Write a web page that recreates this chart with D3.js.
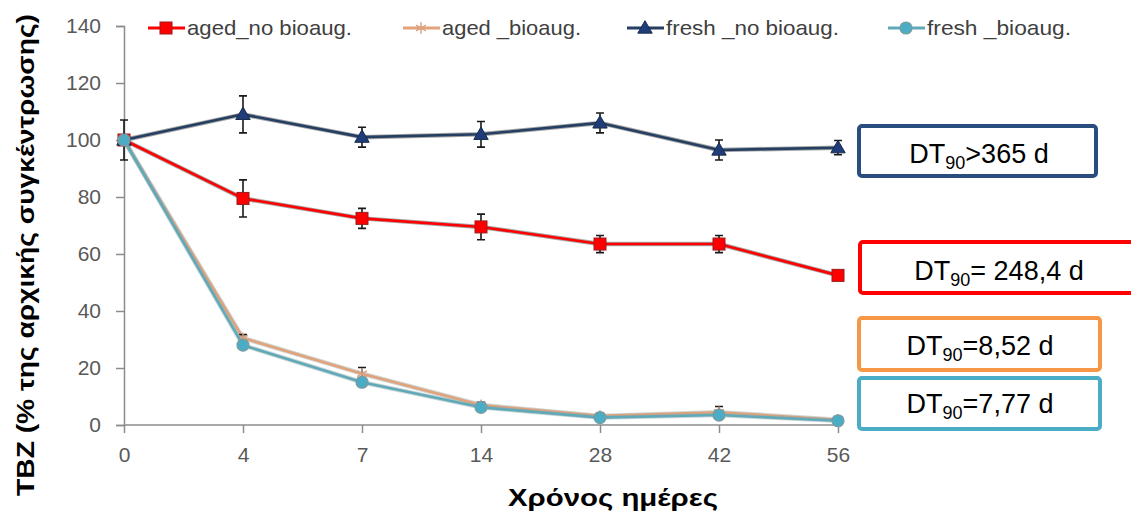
<!DOCTYPE html>
<html>
<head>
<meta charset="utf-8">
<script src="https://cdn.jsdelivr.net/npm/d3@7"></script>
<style>
  html, body { margin: 0; padding: 0; background: #fff; }
  svg { display: block; }
</style>
</head>
<body>
<svg id="chart" width="1131" height="514"></svg>
<script>
const categories = ["0", "4", "7", "14", "28", "42", "56"];
const yTicks = [0, 20, 40, 60, 80, 100, 120, 140];

const seriesNames = ["aged_no bioaug.", "aged _bioaug.", "fresh _no bioaug.", "fresh _bioaug."];
const agedNo = [100, 79.5, 72.5, 69.5, 63.5, 63.5, 52.5];
const agedNoErr = [7, 6.5, 3.5, 4.5, 3, 3, 1.5];
const agedBio = [100, 30.5, 18, 7, 3.2, 4.5, 1.8];
const agedBioErr = [0, 1.2, 2.2, 1, 1, 2, 1];
const freshNo = [100, 109, 101, 102, 106, 96.5, 97.3];
const freshNoErr = [0, 6.5, 3.5, 4.5, 3.5, 3.5, 2.5];
const freshBio = [100, 28, 15, 6.2, 2.6, 3.5, 1.5];
const freshBioErr = [0, 0.8, 0.8, 0.8, 0.8, 0.8, 0.8];

const dtLabels = [">365 d", "= 248,4 d", "=8,52 d", "=7,77 d"];

const svg = d3.select("#chart");
const x = d3.scalePoint().domain(categories).range([124, 838]);
const y = d3.scaleLinear().domain([0, 140]).range([425, 26]);

const axisColor = "#8c8c8c";
const labelColor = "#595959";
const font = "'Liberation Sans', Arial, sans-serif";

// Y axis
const yAxis = svg.append("g").attr("transform", "translate(124,0)")
  .call(d3.axisLeft(y).tickValues(yTicks).tickSize(8).tickPadding(15));
yAxis.select(".domain").attr("stroke", axisColor).attr("stroke-width", 1.5);
yAxis.selectAll(".tick line").attr("stroke", axisColor).attr("stroke-width", 1.5);
yAxis.selectAll(".tick text").attr("fill", labelColor).style("font-family", font).style("font-size", "21px");

// X axis
const xAxis = svg.append("g").attr("transform", "translate(0,425)")
  .call(d3.axisBottom(x).tickSize(8).tickPadding(14));
xAxis.select(".domain").attr("stroke", axisColor).attr("stroke-width", 1.5).attr("d", "M124,0H838");
xAxis.selectAll(".tick line").attr("stroke", axisColor).attr("stroke-width", 1.5);
xAxis.selectAll(".tick text").attr("fill", labelColor).style("font-family", font).style("font-size", "21px");

// Axis titles
svg.append("text")
  .attr("transform", "translate(34,255) rotate(-90)")
  .attr("text-anchor", "middle")
  .attr("textLength", 482).attr("lengthAdjust", "spacingAndGlyphs")
  .style("font-family", font).style("font-weight", "bold").style("font-size", "23px")
  .attr("fill", "#000")
  .text("TBZ (% της αρχικής συγκέντρωσης)");

svg.append("text")
  .attr("x", 613).attr("y", 506)
  .attr("text-anchor", "middle")
  .attr("textLength", 210).attr("lengthAdjust", "spacingAndGlyphs")
  .style("font-family", font).style("font-weight", "bold").style("font-size", "23px")
  .attr("fill", "#000")
  .text("Χρόνος ημέρες");

// Series
const series = [
  { name: seriesNames[0], values: agedNo, err: agedNoErr, color: "#ff0000", stroke: "#9b1b1b", marker: "square" },
  { name: seriesNames[1], values: agedBio, err: agedBioErr, color: "#e2a27a", stroke: "#b98b6e", marker: "star" },
  { name: seriesNames[2], values: freshNo, err: freshNoErr, color: "#253f63", stroke: "#1a2c4a", marker: "triangle" },
  { name: seriesNames[3], values: freshBio, err: freshBioErr, color: "#5fa9b9", stroke: "#7d9a9c", marker: "circle" }
];

const line = d3.line().x((d, i) => x(categories[i])).y(d => y(d));

function drawMarker(g, type, cx, cy, s) {
  if (type === "square") {
    g.append("rect").attr("x", cx - 6).attr("y", cy - 6).attr("width", 12).attr("height", 12)
      .attr("fill", s.color).attr("stroke", s.stroke).attr("stroke-width", 1);
  } else if (type === "triangle") {
    g.append("path").attr("d", d3.symbol(d3.symbolTriangle, 90)()).attr("transform", `translate(${cx},${cy + 1})`)
      .attr("fill", "#1f3d7a").attr("stroke", s.stroke).attr("stroke-width", 1);
  } else if (type === "circle") {
    g.append("circle").attr("cx", cx).attr("cy", cy).attr("r", 6)
      .attr("fill", "#4bacc6").attr("stroke", s.stroke).attr("stroke-width", 1.2);
  } else if (type === "star") {
    g.append("path").attr("d", d3.symbol(d3.symbolAsterisk, 90)()).attr("transform", `translate(${cx},${cy})`)
      .attr("fill", "none").attr("stroke", "#d9a384").attr("stroke-width", 1.5);
  }
}

series.forEach(s => {
  const g = svg.append("g");
  // shadow
  g.append("path").datum(s.values).attr("d", line).attr("fill", "none")
    .attr("stroke", s.marker === "circle" || s.marker === "star" ? "#8fa3a3" : "#3a3a3a")
    .attr("stroke-opacity", 0.45).attr("stroke-width", 4.5).attr("stroke-linejoin", "round");
  g.append("path").datum(s.values).attr("d", line).attr("fill", "none")
    .attr("stroke", s.color).attr("stroke-width", 2.6).attr("stroke-linejoin", "round");
  // error bars
  s.values.forEach((v, i) => {
    const e = s.err[i];
    if (!e) return;
    const cx = x(categories[i]);
    g.append("path")
      .attr("d", `M${cx},${y(v + e)}V${y(v - e)}M${cx - 4},${y(v + e)}H${cx + 4}M${cx - 4},${y(v - e)}H${cx + 4}`)
      .attr("stroke", "#1a1a1a").attr("stroke-width", 1.6).attr("fill", "none");
  });
  s.values.forEach((v, i) => drawMarker(g, s.marker, x(categories[i]), y(v), s));
});

// Legend
const legendPos = [148, 403, 627, 888];
const legendLen = [165, 139, 173, 144];
series.forEach((s, i) => {
  const lx = legendPos[i], ly = 28;
  const g = svg.append("g");
  g.append("line").attr("x1", lx).attr("x2", lx + 37).attr("y1", ly).attr("y2", ly)
    .attr("stroke", s.color).attr("stroke-width", 3);
  drawMarker(g, s.marker, lx + 18, ly, s);
  g.append("text").attr("x", lx + 39).attr("y", ly + 7)
    .attr("textLength", legendLen[i]).attr("lengthAdjust", "spacingAndGlyphs")
    .style("font-family", font).style("font-size", "21px").attr("fill", "#404040")
    .text(s.name);
});

// DT90 boxes
const boxes = [
  { x: 859, y: 126, w: 237, h: 50, color: "#2a4d80", tx: 979, ty: 163 },
  { x: 860, y: 242, w: 290, h: 51, color: "#ff0000", tx: 999, ty: 280 },
  { x: 859, y: 318, w: 241, h: 52, color: "#f79646", tx: 980, ty: 355 },
  { x: 859, y: 378, w: 241, h: 51, color: "#4bacc6", tx: 980, ty: 413 }
];
boxes.forEach((b, i) => {
  svg.append("rect").attr("x", b.x).attr("y", b.y).attr("width", b.w).attr("height", b.h)
    .attr("rx", 3).attr("fill", "#fff").attr("stroke", b.color).attr("stroke-width", 4);
  const t = svg.append("text").attr("x", b.tx).attr("y", b.ty).attr("text-anchor", "middle")
    .style("font-family", font).style("font-size", "27px").attr("fill", "#000");
  t.append("tspan").text("DT");
  t.append("tspan").attr("dy", 6).style("font-size", "18px").text("90");
  t.append("tspan").attr("dy", -6).text(dtLabels[i]);
});
</script>
</body>
</html>
